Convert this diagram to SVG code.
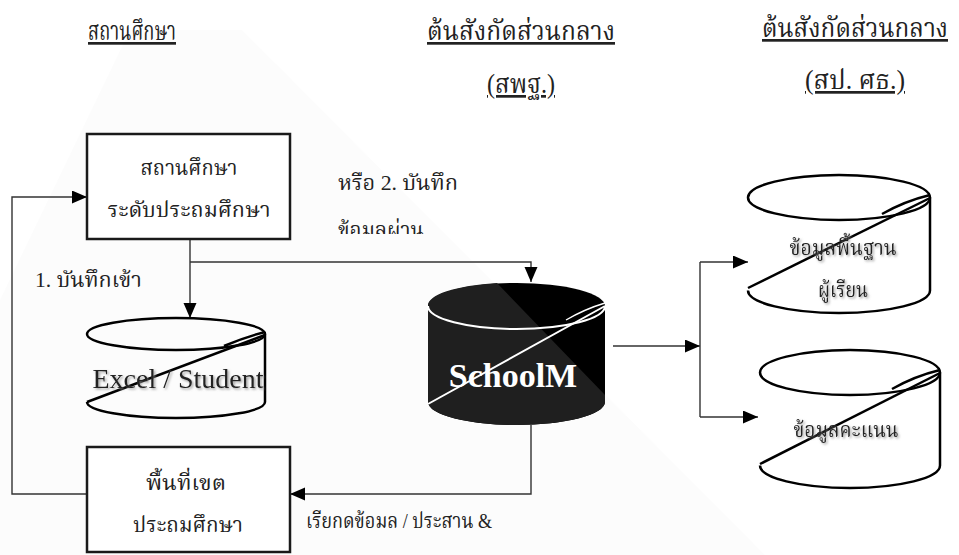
<svg xmlns="http://www.w3.org/2000/svg" width="959" height="555" viewBox="0 0 959 555">
<style>
.th{font-family:"Liberation Serif","Noto Serif Thai","Noto Sans Thai",serif;fill:#222}
.title{font-size:27px;text-decoration:underline}
.lbl{font-size:21px}
.box{fill:#fff;stroke:#1a1a1a;stroke-width:2.5}
.cyl{fill:none;stroke:#000;stroke-width:2.5}
.con{fill:none;stroke:#333;stroke-width:1.4}
.en{font-family:"Liberation Serif",serif}
</style>
<defs>
<marker id="ah" markerUnits="userSpaceOnUse" markerWidth="16" markerHeight="14" refX="15" refY="6.5" orient="auto">
<path d="M0,0 L15,6.5 L0,13 Z" fill="#000"/>
</marker>
<filter id="sh" x="-10%" y="-20%" width="130%" height="150%">
<feDropShadow dx="1.5" dy="1.5" stdDeviation="0.8" flood-color="#888" flood-opacity="0.8"/>
</filter>
<clipPath id="clipL"><rect x="330" y="205" width="120" height="29"/></clipPath>
</defs>
<rect width="959" height="555" fill="#fff"/>
<polygon id="watermark" points="130,30 242,30 765,555 0,555 0,300" fill="#c1c1c1" opacity="0.05"/>

<g id="titles" class="th">
<text class="title" x="88" y="40" textLength="88" lengthAdjust="spacingAndGlyphs">สถานศึกษา</text>
<text class="title" x="427" y="40" textLength="188" lengthAdjust="spacingAndGlyphs">ต้นสังกัดส่วนกลาง</text>
<text class="title" x="487" y="93" textLength="68" lengthAdjust="spacingAndGlyphs">(สพฐ.)</text>
<text class="title" x="762" y="37" font-size="25" textLength="186" lengthAdjust="spacingAndGlyphs">ต้นสังกัดส่วนกลาง</text>
<text class="title" x="805" y="89" textLength="100" lengthAdjust="spacingAndGlyphs">(สป. ศธ.)</text>
</g>

<g id="connectors">
<path class="con" d="M190,239 V318" marker-end="url(#ah)"/>
<path class="con" d="M190,262 H531 V282" marker-end="url(#ah)"/>
<path class="con" d="M87,494 H12 V197 H87" marker-end="url(#ah)"/>
<path class="con" d="M531,425 V494 H290" marker-end="url(#ah)"/>
<path class="con" d="M613,346 H700" marker-end="url(#ah)"/>
<path class="con" d="M700,262 V417"/>
<path class="con" d="M700,262 H748" marker-end="url(#ah)"/>
<path class="con" d="M700,417 H758" marker-end="url(#ah)"/>
<text class="th lbl" x="35" y="287" textLength="107" lengthAdjust="spacingAndGlyphs">1. บันทึกเข้า</text>
<text class="th lbl" x="338" y="190" textLength="120" lengthAdjust="spacingAndGlyphs">หรือ 2. บันทึก</text>
<text class="th lbl" x="338" y="237" textLength="86" lengthAdjust="spacingAndGlyphs" clip-path="url(#clipL)">ข้อมลผ่าน</text>
<text class="th lbl" x="306" y="528" textLength="186" lengthAdjust="spacingAndGlyphs">เรียกดข้อมล / ประสาน &amp;</text>
</g>

<g id="school">
<rect class="box" x="87" y="134" width="203" height="105"/>
<text class="th lbl" x="189" y="175" text-anchor="middle" textLength="97" lengthAdjust="spacingAndGlyphs">สถานศึกษา</text>
<text class="th lbl" x="189" y="217" text-anchor="middle" textLength="163" lengthAdjust="spacingAndGlyphs">ระดับประถมศึกษา</text>
</g>

<g id="area">
<rect class="box" x="87" y="447" width="203" height="105"/>
<text class="th lbl" x="186" y="490" text-anchor="middle" textLength="80" lengthAdjust="spacingAndGlyphs">พื้นที่เขต</text>
<text class="th lbl" x="188" y="532" text-anchor="middle" textLength="110" lengthAdjust="spacingAndGlyphs">ประถมศึกษา</text>
</g>

<g id="excel">
<path class="cyl" d="M265,334 V402 A89,16 0 0 1 87,402"/>
<path class="cyl" d="M265,335 L87,402"/>
<path class="cyl" d="M265,332 Q245,337 224,346" stroke-width="1.6"/>
<ellipse class="cyl" cx="176" cy="334" rx="89" ry="16"/>
<text class="en" x="178" y="388" font-size="28" text-anchor="middle" fill="#222" filter="url(#sh)">Excel / Student</text>
</g>

<g id="schoolm">
<path d="M428,306 A88.5,23 0 0 1 605,306 V402 A88.5,23 0 0 1 428,402 Z" fill="#000"/>
<path d="M497,283 L605,395 V402 A88.5,23 0 0 1 428,402 V306 A88.5,23 0 0 1 497,283 Z" fill="#1f1f1f"/>
<path d="M428,306 A88.5,23 0 0 0 605,306" fill="none" stroke="#fff" stroke-width="2"/>
<path d="M605,306 L428,404" fill="none" stroke="#fff" stroke-width="2"/>
<path d="M605,303 Q585,309 566,320" fill="none" stroke="#fff" stroke-width="1.4"/>
<text class="en" x="513" y="387" font-size="34" font-weight="bold" text-anchor="middle" fill="#fff">SchoolM</text>
</g>

<g id="basic">
<path class="cyl" d="M930,197.5 V290.5 A91,22.5 0 0 1 748,290.5"/>
<path class="cyl" d="M930,198 L748,288"/>
<path class="cyl" d="M930,195 Q905,201 882,214" stroke-width="1.6"/>
<ellipse class="cyl" cx="839" cy="197.5" rx="91" ry="22.5"/>
<text class="th lbl" x="843" y="255" text-anchor="middle" filter="url(#sh)" textLength="107" lengthAdjust="spacingAndGlyphs">ข้อมูลพื้นฐาน</text>
<text class="th lbl" x="843" y="297" text-anchor="middle" filter="url(#sh)" textLength="50" lengthAdjust="spacingAndGlyphs">ผู้เรียน</text>
</g>

<g id="score">
<path class="cyl" d="M940,372.5 V465.5 A90,22.5 0 0 1 760,465.5"/>
<path class="cyl" d="M940,373 L760,464"/>
<path class="cyl" d="M940,370 Q915,376 892,389" stroke-width="1.6"/>
<ellipse class="cyl" cx="850" cy="372.5" rx="90" ry="22.5"/>
<text class="th lbl" x="846" y="437" text-anchor="middle" filter="url(#sh)" textLength="105" lengthAdjust="spacingAndGlyphs">ข้อมูลคะแนน</text>
</g>
</svg>
